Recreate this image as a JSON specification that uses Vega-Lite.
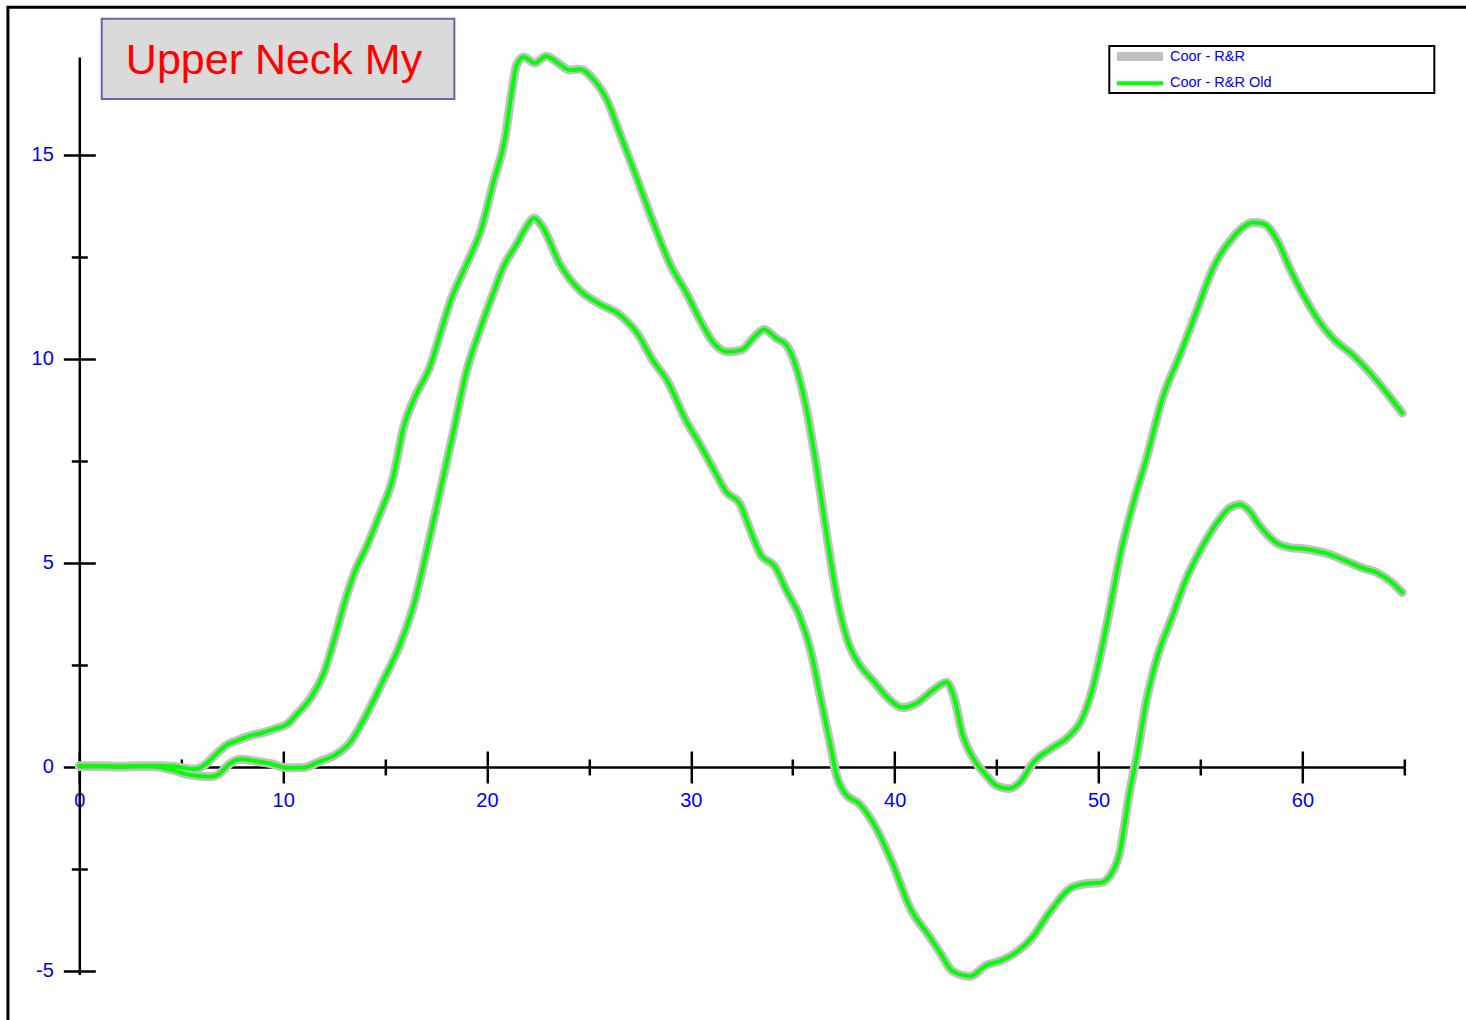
{
  "$schema": "https://vega.github.io/schema/vega-lite/v6.json",
  "width": 1325,
  "height": 917.6,
  "autosize": {"type": "none"},
  "padding": {"left": 79.3, "top": 57, "right": 61.7, "bottom": 45.4},
  "background": "white",
  "config": {
    "view": {"stroke": null},
    "axis": {"grid": false, "title": null, "domainColor": "black", "tickColor": "black", "domainWidth": 2.5, "tickWidth": 2.5, "labelFont": "Liberation Sans", "labelFontSize": 20, "labelColor": "#0000FF", "labelFlush": false, "labelOverlap": false},
    "legend": {"strokeWidth": 2}
  },
  "datasets": {
    "curves": [
      {"t":0,"curve":"A","v":0.02},{"t":1,"curve":"A","v":0.02},{"t":2,"curve":"A","v":0.01},{"t":3,"curve":"A","v":0.02},{"t":4,"curve":"A","v":0.02},{"t":4.6,"curve":"A","v":0.01},{"t":5.1,"curve":"A","v":-0.03},{"t":5.7,"curve":"A","v":-0.06},{"t":6.2,"curve":"A","v":0.06},{"t":6.6,"curve":"A","v":0.25},{"t":7.2,"curve":"A","v":0.52},{"t":7.8,"curve":"A","v":0.65},{"t":8.4,"curve":"A","v":0.76},{"t":9.0,"curve":"A","v":0.83},{"t":9.6,"curve":"A","v":0.93},{"t":10.2,"curve":"A","v":1.04},{"t":10.7,"curve":"A","v":1.3},{"t":11.4,"curve":"A","v":1.72},{"t":12.0,"curve":"A","v":2.3},{"t":12.5,"curve":"A","v":3.1},{"t":13.0,"curve":"A","v":4.0},{"t":13.5,"curve":"A","v":4.75},{"t":14.1,"curve":"A","v":5.4},{"t":14.75,"curve":"A","v":6.2},{"t":15.4,"curve":"A","v":7.1},{"t":15.9,"curve":"A","v":8.3},{"t":16.5,"curve":"A","v":9.1},{"t":17.2,"curve":"A","v":9.8},{"t":17.7,"curve":"A","v":10.6},{"t":18.2,"curve":"A","v":11.4},{"t":18.8,"curve":"A","v":12.1},{"t":19.3,"curve":"A","v":12.65},{"t":19.7,"curve":"A","v":13.15},{"t":20.3,"curve":"A","v":14.3},{"t":20.9,"curve":"A","v":15.45},{"t":21.2,"curve":"A","v":16.5},{"t":21.45,"curve":"A","v":17.2},{"t":21.8,"curve":"A","v":17.4},{"t":22.35,"curve":"A","v":17.25},{"t":22.9,"curve":"A","v":17.42},{"t":23.5,"curve":"A","v":17.25},{"t":24.05,"curve":"A","v":17.08},{"t":24.55,"curve":"A","v":17.1},{"t":25.2,"curve":"A","v":16.86},{"t":25.9,"curve":"A","v":16.33},{"t":26.5,"curve":"A","v":15.55},{"t":27.3,"curve":"A","v":14.5},{"t":28.15,"curve":"A","v":13.35},{"t":29.0,"curve":"A","v":12.3},{"t":29.8,"curve":"A","v":11.6},{"t":30.45,"curve":"A","v":10.95},{"t":31.1,"curve":"A","v":10.4},{"t":31.8,"curve":"A","v":10.17},{"t":32.5,"curve":"A","v":10.22},{"t":33.05,"curve":"A","v":10.5},{"t":33.6,"curve":"A","v":10.72},{"t":34.2,"curve":"A","v":10.5},{"t":34.7,"curve":"A","v":10.33},{"t":35.2,"curve":"A","v":9.74},{"t":35.7,"curve":"A","v":8.7},{"t":36.15,"curve":"A","v":7.4},{"t":36.65,"curve":"A","v":5.73},{"t":37.15,"curve":"A","v":4.2},{"t":37.65,"curve":"A","v":3.15},{"t":38.3,"curve":"A","v":2.48},{"t":38.95,"curve":"A","v":2.1},{"t":39.6,"curve":"A","v":1.72},{"t":40.4,"curve":"A","v":1.45},{"t":41.1,"curve":"A","v":1.56},{"t":41.9,"curve":"A","v":1.88},{"t":42.55,"curve":"A","v":2.07},{"t":42.9,"curve":"A","v":1.72},{"t":43.35,"curve":"A","v":0.75},{"t":43.85,"curve":"A","v":0.21},{"t":44.5,"curve":"A","v":-0.22},{"t":45.0,"curve":"A","v":-0.47},{"t":45.6,"curve":"A","v":-0.54},{"t":46.15,"curve":"A","v":-0.38},{"t":46.8,"curve":"A","v":0.1},{"t":47.7,"curve":"A","v":0.45},{"t":48.5,"curve":"A","v":0.72},{"t":49.2,"curve":"A","v":1.18},{"t":49.7,"curve":"A","v":1.9},{"t":50.1,"curve":"A","v":2.75},{"t":50.55,"curve":"A","v":3.85},{"t":51.05,"curve":"A","v":5.15},{"t":51.7,"curve":"A","v":6.45},{"t":52.35,"curve":"A","v":7.55},{"t":53.15,"curve":"A","v":9.05},{"t":54.0,"curve":"A","v":10.1},{"t":54.8,"curve":"A","v":11.15},{"t":55.6,"curve":"A","v":12.2},{"t":56.6,"curve":"A","v":12.98},{"t":57.6,"curve":"A","v":13.34},{"t":58.1,"curve":"A","v":13.31},{"t":58.75,"curve":"A","v":12.92},{"t":59.4,"curve":"A","v":12.2},{"t":60.05,"curve":"A","v":11.56},{"t":60.85,"curve":"A","v":10.9},{"t":61.5,"curve":"A","v":10.5},{"t":62.5,"curve":"A","v":10.08},{"t":63.15,"curve":"A","v":9.75},{"t":64.0,"curve":"A","v":9.25},{"t":64.9,"curve":"A","v":8.67},
      {"t":0,"curve":"B","v":0.0},{"t":1,"curve":"B","v":0.0},{"t":2,"curve":"B","v":-0.01},{"t":3,"curve":"B","v":0.0},{"t":3.6,"curve":"B","v":0.0},{"t":4.5,"curve":"B","v":-0.08},{"t":5.4,"curve":"B","v":-0.2},{"t":6.4,"curve":"B","v":-0.25},{"t":6.8,"curve":"B","v":-0.2},{"t":7.4,"curve":"B","v":0.08},{"t":7.9,"curve":"B","v":0.18},{"t":8.7,"curve":"B","v":0.13},{"t":9.4,"curve":"B","v":0.07},{"t":10.2,"curve":"B","v":-0.03},{"t":11.0,"curve":"B","v":-0.02},{"t":11.8,"curve":"B","v":0.13},{"t":12.6,"curve":"B","v":0.3},{"t":13.3,"curve":"B","v":0.6},{"t":13.9,"curve":"B","v":1.1},{"t":14.9,"curve":"B","v":2.1},{"t":15.7,"curve":"B","v":2.95},{"t":16.4,"curve":"B","v":3.95},{"t":17.05,"curve":"B","v":5.3},{"t":17.7,"curve":"B","v":6.75},{"t":18.35,"curve":"B","v":8.2},{"t":19.0,"curve":"B","v":9.7},{"t":19.65,"curve":"B","v":10.7},{"t":20.3,"curve":"B","v":11.6},{"t":20.85,"curve":"B","v":12.3},{"t":21.45,"curve":"B","v":12.8},{"t":21.95,"curve":"B","v":13.25},{"t":22.3,"curve":"B","v":13.45},{"t":22.7,"curve":"B","v":13.25},{"t":23.6,"curve":"B","v":12.3},{"t":24.55,"curve":"B","v":11.68},{"t":25.5,"curve":"B","v":11.35},{"t":26.5,"curve":"B","v":11.08},{"t":27.35,"curve":"B","v":10.64},{"t":28.15,"curve":"B","v":9.95},{"t":28.8,"curve":"B","v":9.5},{"t":29.8,"curve":"B","v":8.45},{"t":30.45,"curve":"B","v":7.9},{"t":31.1,"curve":"B","v":7.3},{"t":31.76,"curve":"B","v":6.72},{"t":32.4,"curve":"B","v":6.45},{"t":32.9,"curve":"B","v":5.82},{"t":33.45,"curve":"B","v":5.18},{"t":34.1,"curve":"B","v":4.92},{"t":34.7,"curve":"B","v":4.31},{"t":35.35,"curve":"B","v":3.67},{"t":35.85,"curve":"B","v":2.9},{"t":36.35,"curve":"B","v":1.72},{"t":36.85,"curve":"B","v":0.52},{"t":37.15,"curve":"B","v":-0.22},{"t":37.55,"curve":"B","v":-0.65},{"t":38.3,"curve":"B","v":-0.93},{"t":39.1,"curve":"B","v":-1.52},{"t":39.9,"curve":"B","v":-2.38},{"t":40.75,"curve":"B","v":-3.46},{"t":41.7,"curve":"B","v":-4.16},{"t":42.2,"curve":"B","v":-4.54},{"t":42.85,"curve":"B","v":-5.02},{"t":43.7,"curve":"B","v":-5.14},{"t":44.5,"curve":"B","v":-4.87},{"t":45.2,"curve":"B","v":-4.76},{"t":46.0,"curve":"B","v":-4.54},{"t":46.8,"curve":"B","v":-4.16},{"t":47.6,"curve":"B","v":-3.57},{"t":48.75,"curve":"B","v":-2.95},{"t":49.6,"curve":"B","v":-2.86},{"t":50.1,"curve":"B","v":-2.85},{"t":50.7,"curve":"B","v":-2.57},{"t":51.05,"curve":"B","v":-2.08},{"t":51.55,"curve":"B","v":-0.55},{"t":51.87,"curve":"B","v":0.22},{"t":52.36,"curve":"B","v":1.64},{"t":52.85,"curve":"B","v":2.63},{"t":53.65,"curve":"B","v":3.72},{"t":54.3,"curve":"B","v":4.6},{"t":55.0,"curve":"B","v":5.31},{"t":55.8,"curve":"B","v":5.97},{"t":56.45,"curve":"B","v":6.35},{"t":56.95,"curve":"B","v":6.43},{"t":57.35,"curve":"B","v":6.3},{"t":57.9,"curve":"B","v":5.91},{"t":58.75,"curve":"B","v":5.48},{"t":59.4,"curve":"B","v":5.37},{"t":60.05,"curve":"B","v":5.34},{"t":61.35,"curve":"B","v":5.2},{"t":62.15,"curve":"B","v":5.04},{"t":62.95,"curve":"B","v":4.87},{"t":63.65,"curve":"B","v":4.76},{"t":64.3,"curve":"B","v":4.55},{"t":64.9,"curve":"B","v":4.27}
    ]
  },
  "layer": [
    {
      "data": {"values": [{}]},
      "mark": {"type": "rect", "filled": false, "stroke": "black", "strokeWidth": 3},
      "encoding": {
        "x": {"datum": -3.5, "type": "quantitative", "scale": {"domain": [0, 65], "nice": false, "zero": false},
              "axis": {"orient": "bottom", "offset": -207.6, "values": [5, 15, 25, 35, 45, 55, 65], "tickSize": 8, "labels": false, "domain": false}},
        "x2": {"datum": 75},
        "y": {"datum": 18.62, "type": "quantitative", "scale": {"domain": [-5.1, 17.4], "nice": false, "zero": false},
              "axis": {"orient": "left", "values": [-2.5, 2.5, 7.5, 12.5], "tickSize": 8, "labels": false, "domain": false}},
        "y2": {"datum": -10}
      }
    },
    {
      "data": {"values": [{}]},
      "mark": {"type": "rect", "fill": "#DADADA", "stroke": "#6666AA", "strokeWidth": 2},
      "encoding": {
        "x": {"datum": 1.1, "type": "quantitative",
              "axis": {"orient": "bottom", "offset": -207.6, "values": [5, 15, 25, 35, 45, 55, 65], "tickSize": -8, "labels": false, "domain": false}},
        "x2": {"datum": 18.4},
        "y": {"datum": 18.34, "type": "quantitative",
              "axis": {"orient": "left", "values": [-2.5, 2.5, 7.5, 12.5], "tickSize": -8, "labels": false, "domain": false}},
        "y2": {"datum": 16.37}
      }
    },
    {
      "data": {"values": [{}]},
      "mark": {"type": "text", "text": "Upper Neck My", "font": "Liberation Sans", "fontSize": 43, "color": "#FF0000", "align": "center", "baseline": "alphabetic"},
      "encoding": {
        "x": {"datum": 9.55, "type": "quantitative", "axis": null},
        "y": {"datum": 16.99, "type": "quantitative", "axis": null}
      }
    },
    {
      "data": {"name": "curves"},
      "mark": {"type": "line", "interpolate": "monotone", "strokeCap": "round", "strokeJoin": "round"},
      "encoding": {
        "x": {"field": "t", "type": "quantitative",
              "axis": {"orient": "bottom", "offset": -207.6, "values": [0, 10, 20, 30, 40, 50, 60], "tickSize": 16, "labelPadding": 7}},
        "y": {"field": "v", "type": "quantitative",
              "axis": {"orient": "left", "values": [-5, 0, 5, 10, 15], "tickSize": 16, "labelPadding": 10, "labelExpr": "'' + datum.value"}},
        "detail": {"field": "curve", "type": "nominal"},
        "color": {"datum": "Coor - R&R", "type": "nominal",
                  "scale": {"domain": ["Coor - R&R", "Coor - R&R Old"], "range": ["#C0C0C0", "#00FF00"]},
                  "legend": {"orient": "none", "legendX": 1030, "legendY": -11, "direction": "vertical", "title": " ", "titleOrient": "right", "titlePadding": 161.5, "titleFontSize": 1, "fillColor": "white", "strokeColor": "black", "padding": 1, "rowPadding": 0, "symbolType": "M-4.6,0H4.6", "symbolSize": 100, "symbolOffset": 20.2, "labelOffset": 20.5, "labelFont": "Liberation Sans", "labelFontSize": 14.5, "labelColor": "#0000FF", "labelLimit": 300}},
        "strokeWidth": {"datum": "Coor - R&R", "type": "nominal",
                  "scale": {"type": "ordinal", "domain": ["Coor - R&R", "Coor - R&R Old"], "range": [9, 4]},
                  "legend": {"orient": "none", "legendX": 1030, "legendY": -11, "direction": "vertical", "title": " ", "titleOrient": "right", "titlePadding": 161.5, "titleFontSize": 1, "fillColor": "white", "strokeColor": "black", "padding": 1, "rowPadding": 0, "symbolType": "M-4.6,0H4.6", "symbolSize": 100, "symbolOffset": 20.2, "labelOffset": 20.5, "labelFont": "Liberation Sans", "labelFontSize": 14.5, "labelColor": "#0000FF", "labelLimit": 300}}
      }
    },
    {
      "data": {"name": "curves"},
      "mark": {"type": "line", "interpolate": "monotone", "strokeCap": "round", "strokeJoin": "round"},
      "encoding": {
        "x": {"field": "t", "type": "quantitative",
              "axis": {"orient": "bottom", "offset": -207.6, "values": [0, 10, 20, 30, 40, 50, 60], "tickSize": -16, "labels": false, "domain": false}},
        "y": {"field": "v", "type": "quantitative",
              "axis": {"orient": "left", "values": [-5, 0, 5, 10, 15], "tickSize": -16, "labels": false, "domain": false}},
        "detail": {"field": "curve", "type": "nominal"},
        "color": {"datum": "Coor - R&R Old", "type": "nominal",
                  "scale": {"domain": ["Coor - R&R", "Coor - R&R Old"], "range": ["#C0C0C0", "#00FF00"]},
                  "legend": {"orient": "none", "legendX": 1030, "legendY": -11, "direction": "vertical", "title": " ", "titleOrient": "right", "titlePadding": 161.5, "titleFontSize": 1, "fillColor": "white", "strokeColor": "black", "padding": 1, "rowPadding": 0, "symbolType": "M-4.6,0H4.6", "symbolSize": 100, "symbolOffset": 20.2, "labelOffset": 20.5, "labelFont": "Liberation Sans", "labelFontSize": 14.5, "labelColor": "#0000FF", "labelLimit": 300}},
        "strokeWidth": {"datum": "Coor - R&R Old", "type": "nominal",
                  "scale": {"type": "ordinal", "domain": ["Coor - R&R", "Coor - R&R Old"], "range": [9, 4]},
                  "legend": {"orient": "none", "legendX": 1030, "legendY": -11, "direction": "vertical", "title": " ", "titleOrient": "right", "titlePadding": 161.5, "titleFontSize": 1, "fillColor": "white", "strokeColor": "black", "padding": 1, "rowPadding": 0, "symbolType": "M-4.6,0H4.6", "symbolSize": 100, "symbolOffset": 20.2, "labelOffset": 20.5, "labelFont": "Liberation Sans", "labelFontSize": 14.5, "labelColor": "#0000FF", "labelLimit": 300}}
      }
    }
  ],
  "resolve": {"axis": {"x": "independent", "y": "independent"}}
}
